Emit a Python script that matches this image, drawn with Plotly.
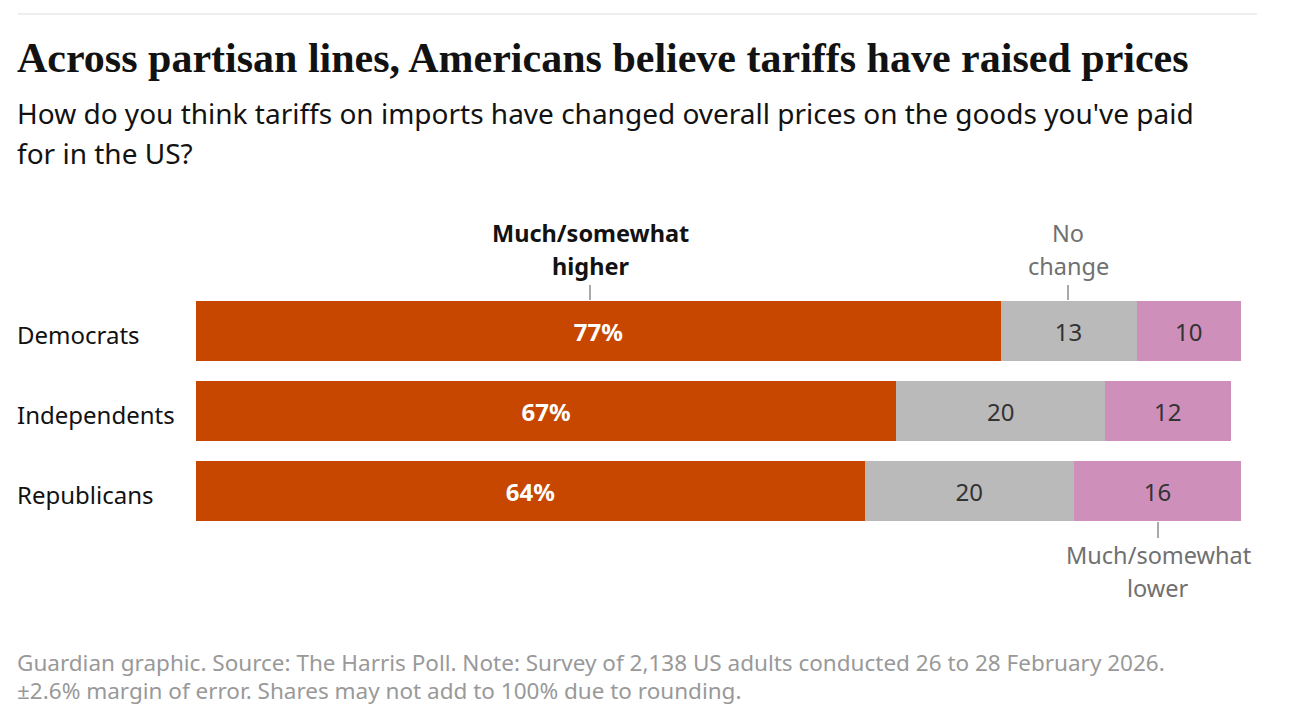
import plotly.graph_objects as go

groups = ["Democrats", "Independents", "Republicans"]
higher = [77, 67, 64]
nochange = [13, 20, 20]
lower = [10, 12, 16]

W, H = 1304, 726
OFF = 8  # page body margin
L, R, T, B = 196 - OFF, 1304 - (1241 - OFF), 291 - OFF, 726 - (531 - OFF)
pw, ph = W - L - R, H - T - B

def px(x): return (x - OFF - L) / pw
def py(y): return (H - B - (y - OFF)) / ph

ORANGE, GRAY, PINK = "#c74600", "#bababa", "#ce8fbb"
fig = go.Figure()
series = [("Much/somewhat higher", higher, ORANGE, "white", [f"<b>{v}%</b>" for v in higher]),
          ("No change", nochange, GRAY, "#333333", [str(v) for v in nochange]),
          ("Much/somewhat lower", lower, PINK, "#333333", [str(v) for v in lower])]
for name, vals, col, tc, txt in series:
    fig.add_trace(go.Bar(y=groups, x=vals, orientation="h", name=name,
                         marker=dict(color=col, line=dict(width=0)),
                         text=txt, textposition="inside", insidetextanchor="middle",
                         textfont=dict(color=tc, size=24, family="Noto Sans"),
                         hoverinfo="skip"))

ann = []
def txt(x, y, s, size, color, xanchor="left", family="Noto Sans"):
    ann.append(dict(xref="paper", yref="paper", x=px(x), y=py(y), text=s, showarrow=False,
                    xanchor=xanchor, yanchor="middle",
                    font=dict(size=size, color=color, family=family)))

LX = 15
txt(LX, 58, "<b>Across partisan lines, Americans believe tariffs have raised prices</b>", 42, "#121212", family="Liberation Serif")
txt(LX, 113, "How do you think tariffs on imports have changed overall prices on the goods you've paid", 28, "#121212")
txt(LX, 153, "for in the US?", 28, "#121212")
txt(590, 233, "<b>Much/somewhat</b>", 23.5, "#121212", xanchor="center")
txt(590, 266, "<b>higher</b>", 23.5, "#121212", xanchor="center")
txt(1068, 233, "No", 23.5, "#707070", xanchor="center")
txt(1068, 266, "change", 23.5, "#707070", xanchor="center")
txt(1158, 555, "Much/somewhat", 23.5, "#707070", xanchor="center")
txt(1158, 588, "lower", 23.5, "#707070", xanchor="center")
txt(LX, 662, "Guardian graphic. Source: The Harris Poll. Note: Survey of 2,138 US adults conducted 26 to 28 February 2026.", 22.5, "#999999")
txt(LX, 690, "±2.6% margin of error. Shares may not add to 100% due to rounding.", 22.5, "#999999")
for g, yy in zip(groups, [334, 414, 494]):
    txt(LX, yy, g, 24, "#121212")

def vline(x, y0, y1, col):
    return dict(type="line", xref="paper", yref="paper", x0=px(x), x1=px(x), y0=py(y0), y1=py(y1), line=dict(color=col, width=1))

shapes = [
    dict(type="line", xref="paper", yref="paper", x0=px(18), x1=px(1257), y0=py(14), y1=py(14), line=dict(color="#dcdcdc", width=1)),
    vline(590, 285, 300, "#555"), vline(1068, 285, 300, "#555"), vline(1158, 522, 538, "#555"),
]

fig.update_layout(width=W, height=H, margin=dict(l=L, r=R, t=T, b=B), barmode="stack", bargap=0.25,
                  plot_bgcolor="white", paper_bgcolor="white", showlegend=False,
                  xaxis=dict(range=[0, 100], visible=False, fixedrange=True),
                  yaxis=dict(autorange="reversed", visible=False, fixedrange=True),
                  annotations=ann, shapes=shapes, uniformtext=dict(minsize=10))
fig.write_html("out.html")
